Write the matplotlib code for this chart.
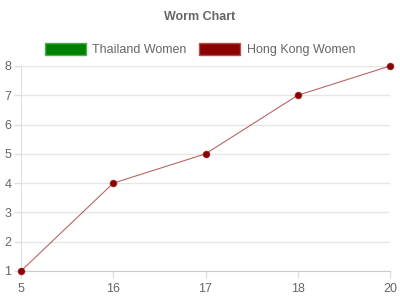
import matplotlib
matplotlib.use("Agg")
import matplotlib.pyplot as plt
from matplotlib.patches import Patch
import numpy as np

categories = ["5", "16", "17", "18", "20"]
thailand_women = [np.nan, np.nan, np.nan, np.nan, np.nan]
hong_kong_women = [1, 4, 5, 7, 8]
y_ticks = [1, 2, 3, 4, 5, 6, 7, 8]

plt.rcParams['font.family'] = ['Liberation Sans', 'DejaVu Sans']
fig = plt.figure(figsize=(4, 3), dpi=100)
ax = fig.add_axes([0.0525, 0.0967, 0.9225, 0.6833])

x = np.arange(len(categories))
ax.plot(x, thailand_women, color='green')
ax.plot(x, hong_kong_women, color=(0.545, 0, 0, 0.6), linewidth=0.8, zorder=3)
ax.scatter(x, hong_kong_women, s=22, color='#8b0000', edgecolor=(0.545, 0, 0, 0.6), linewidth=0.8, zorder=4, clip_on=False)

ax.set_xlim(0, len(categories) - 1)
ax.set_ylim(1, 8)
ax.set_xticks(x)
ax.set_xticklabels(categories)
ax.set_yticks(y_ticks)
ax.grid(axis='y', color='#e6e6e6', linewidth=1)
ax.set_axisbelow(True)
for s in ['top', 'right']:
    ax.spines[s].set_visible(False)
ax.spines['left'].set_color('#e0e0e0')
ax.spines['bottom'].set_color('#cccccc')
ax.tick_params(axis='both', colors='#e0e0e0', labelcolor='#666666', labelsize=9, length=5, width=1, pad=2)
ax.tick_params(axis='x', pad=4)

fig.text(0.5, 0.943, "Worm Chart", ha='center', va='center', fontsize=9, fontweight='bold', color='#666666')

handles = [Patch(facecolor='#008000', edgecolor='#4caf50', label='Thailand Women'),
           Patch(facecolor='#8b0000', edgecolor='#b05050', label='Hong Kong Women')]
fig.legend(handles=handles, loc='center', bbox_to_anchor=(0.5, 0.835), ncol=2, frameon=False,
           fontsize=9, handlelength=3.3, handleheight=1.1, handletextpad=0.5, columnspacing=1.0,
           labelcolor='#666666')

fig.savefig("out.png", dpi=100)
